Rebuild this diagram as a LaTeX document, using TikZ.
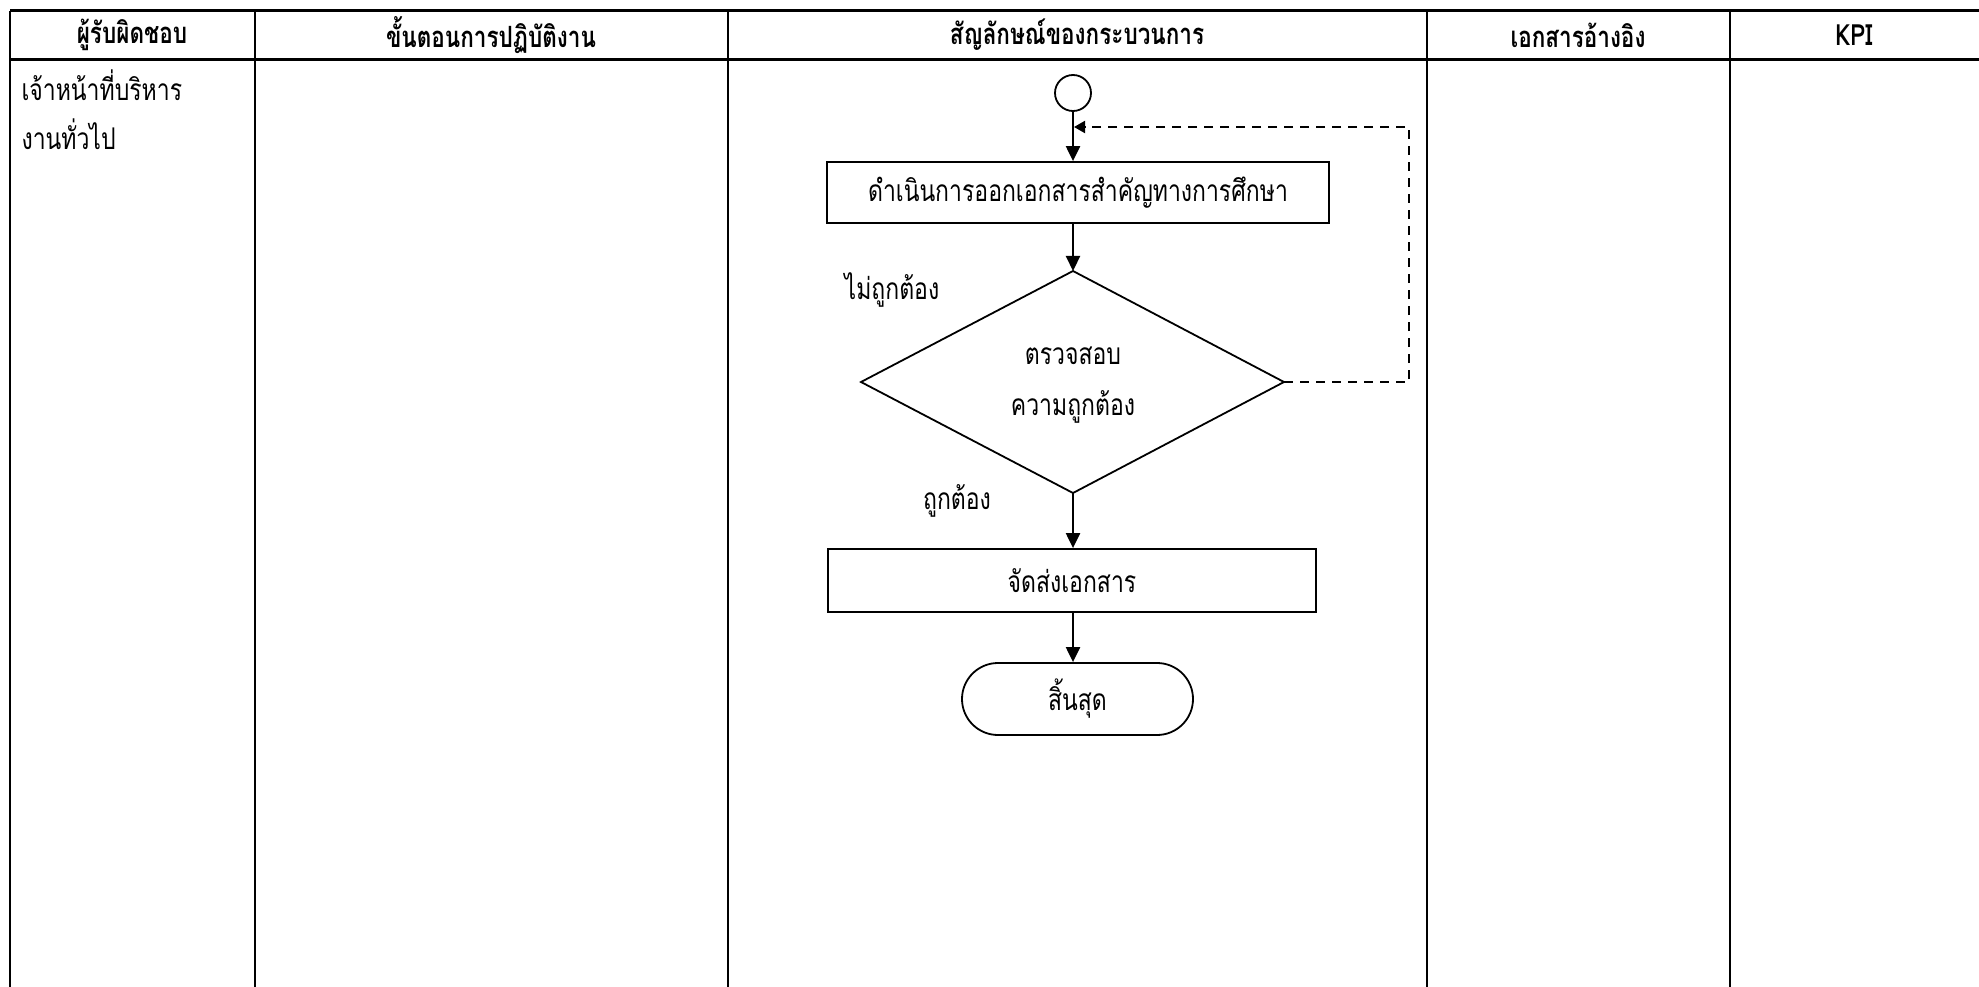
\documentclass[tikz,border=0pt]{standalone}
\usepackage{fontspec}
\usepackage{graphicx}
\newfontfamily\thai[Script=Thai]{Loma}
\newcommand{\tx}[1]{\scalebox{1}[1.3]{#1}}
\usetikzlibrary{shapes.geometric,arrows.meta}
\begin{document}
\begin{tikzpicture}[x=1pt,y=-1pt,
  tline/.style={line width=3pt},
  cline/.style={line width=2pt},
  head/.style={font=\thai\bfseries\fontsize{22.5}{26}\selectfont, anchor=center},
  txt/.style={font=\thai\fontsize{23}{26}\selectfont},
  procbox/.style={draw, line width=1.8pt, rectangle, inner sep=0pt, font=\thai\fontsize{23}{26}\selectfont},
  flow/.style={line width=2.2pt, -{Triangle[width=14pt,length=15pt]}},
  back/.style={line width=2pt, dash pattern=on 9pt off 7pt, -{Triangle[width=12pt,length=11pt]}}
]
\useasboundingbox (0,0) rectangle (1979,987);
% table
\draw[tline] (10,11) -- (1979,11);
\draw[tline] (10,60) -- (1979,60);
\foreach \xx in {10,255,728,1427,1730}{\draw[cline] (\xx,11) -- (\xx,987);}
\node[head] (h1) at (132,35) {\tx{ผู้รับผิดชอบ}};
\node[head] (h2) at (491,35) {\tx{ขั้นตอนการปฏิบัติงาน}};
\node[head] (h3) at (1077,35) {\tx{สัญลักษณ์ของกระบวนการ}};
\node[head] (h4) at (1578,35) {\tx{เอกสารอ้างอิง}};
\node[head] (h5) at (1854,35) {\tx{KPI}};
\node[txt, anchor=west] (r1) at (18,85) {\tx{เจ้าหน้าที่บริหาร}};
\node[txt, anchor=west] (r2) at (18,134) {\tx{งานทั่วไป}};
% flowchart
\node[draw, circle, line width=1.8pt, minimum size=36pt, inner sep=0pt] (start) at (1073,93) {};
\node[procbox, minimum width=502pt, minimum height=61pt] (p1) at (1078,192.5) {\tx{ดำเนินการออกเอกสารสำคัญทางการศึกษา}};
\coordinate (dT) at (1073,271);
\coordinate (dB) at (1073,493);
\coordinate (dL) at (861,382);
\coordinate (dR) at (1284,382);
\draw[line width=1.8pt, line join=miter] (dT) -- (dR) -- (dB) -- (dL) -- cycle;
\node[txt] (c1) at (1073,356) {\tx{ตรวจสอบ}};
\node[txt] (c2) at (1073,407) {\tx{ความถูกต้อง}};
\node[txt] (no) at (892,290) {\tx{ไม่ถูกต้อง}};
\node[txt] (yes) at (957,501) {\tx{ถูกต้อง}};
\node[procbox, minimum width=488pt, minimum height=63pt] (p2) at (1072,580.5) {\tx{จัดส่งเอกสาร}};
\node[draw, line width=1.8pt, rounded corners=36pt, minimum width=231pt, minimum height=72pt, inner sep=0pt, font=\thai\fontsize{23}{26}\selectfont] (fin) at (1077.5,699) {\tx{สิ้นสุด}};
\coordinate (bk1) at (1409,382);
\coordinate (bk2) at (1409,127);
\coordinate (bk3) at (1074,127);
\draw[flow] (start.south) -- (start.south |- p1.north);
\draw[flow] (start.south |- p1.south) -- (dT);
\draw[flow] (dB) -- (dB |- p2.north);
\draw[flow] (dB |- p2.south) -- (dB |- fin.north);
\draw[back] (dR) -- (bk1) -- (bk2) -- (bk3);
\end{tikzpicture}
\end{document}
